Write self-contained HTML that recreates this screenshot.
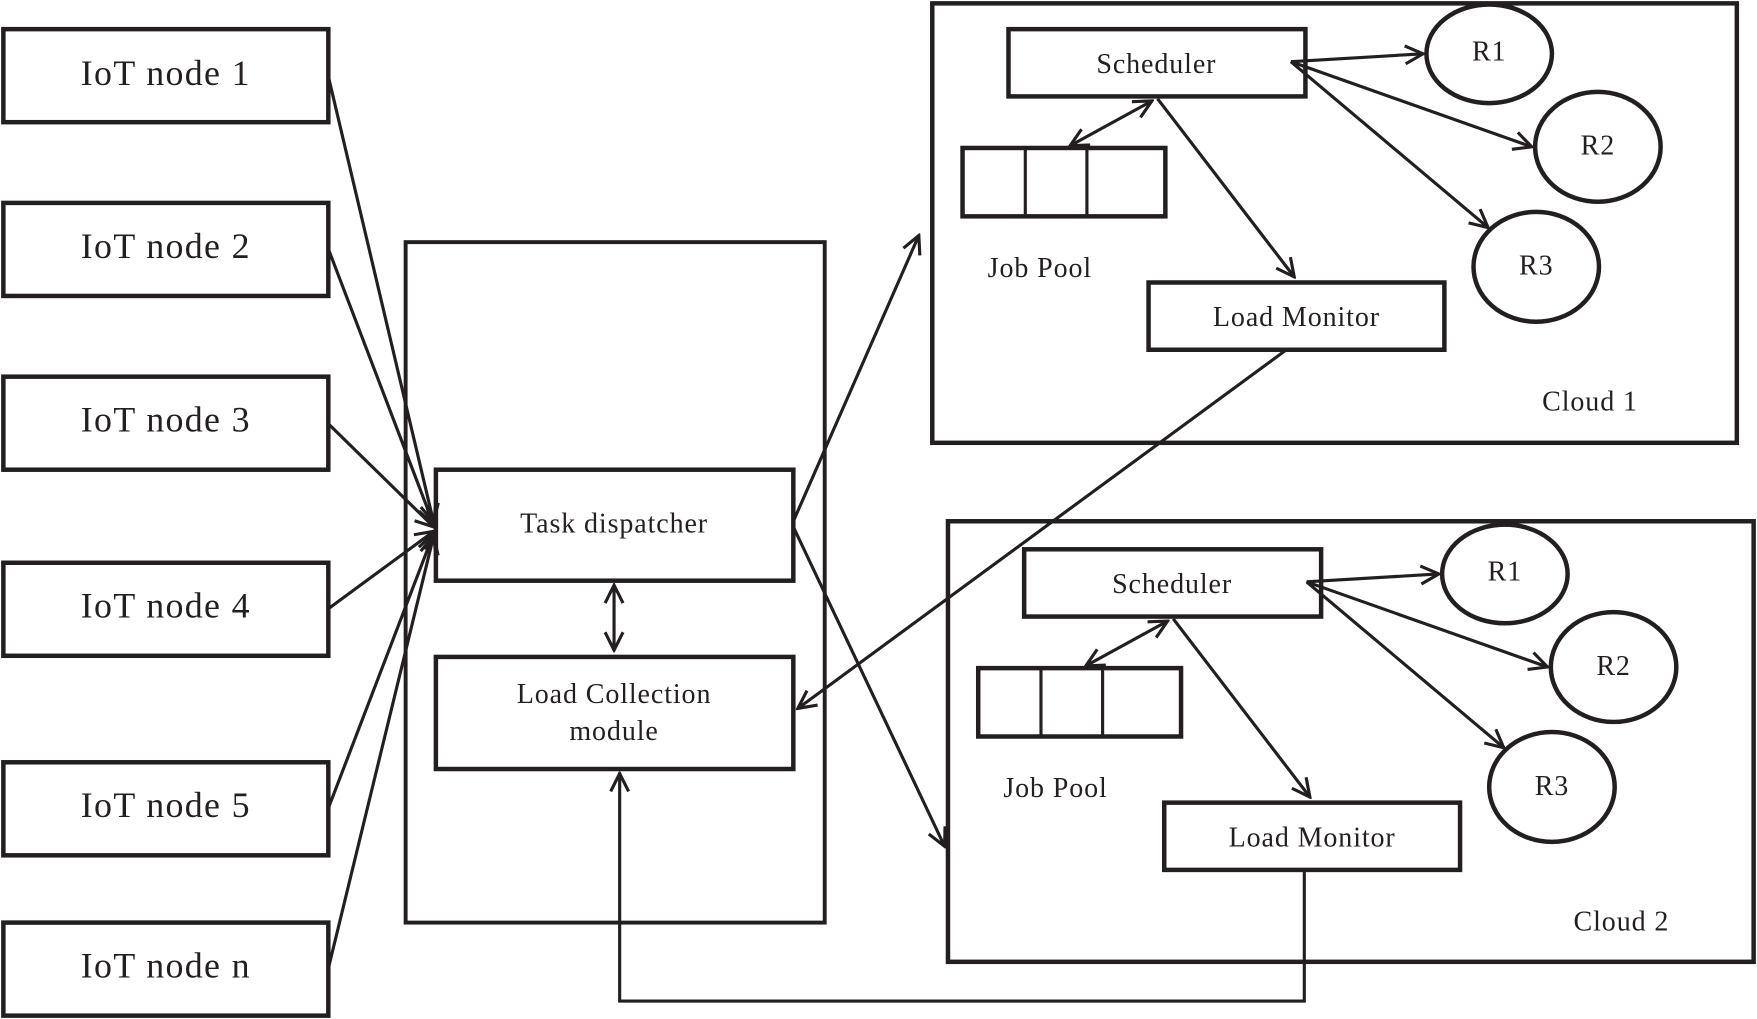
<!DOCTYPE html>
<html><head><meta charset="utf-8"><style>
html,body{margin:0;padding:0;background:#fff;}
svg{display:block;}
text{font-family:"Liberation Serif",serif;fill:#231f20;}
</style></head><body>
<svg width="1757" height="1019" viewBox="0 0 1568 909" preserveAspectRatio="none" xmlns="http://www.w3.org/2000/svg">
<defs>
<marker id="a" viewBox="0 0 20 20" refX="18" refY="10" markerWidth="20" markerHeight="20" markerUnits="userSpaceOnUse" orient="auto-start-reverse">
<polyline points="2,2 18,10 2,18" fill="none" stroke="#231f20" stroke-width="2.8"/>
</marker>
</defs>
<g fill="none" stroke="#231f20" stroke-width="4">
<rect x="3" y="26" width="290" height="83"/>
<rect x="3" y="181" width="290" height="83"/>
<rect x="3" y="336" width="290" height="83"/>
<rect x="3" y="502" width="290" height="83"/>
<rect x="3" y="680" width="290" height="83"/>
<rect x="3" y="823" width="290" height="83"/>
<rect x="362" y="216" width="374" height="607" stroke-width="3.5"/>
<rect x="389" y="419" width="319" height="99"/>
<rect x="389" y="586" width="319" height="100"/>
<rect x="832" y="3" width="718" height="392"/>
<rect x="846" y="465" width="719" height="393"/>
<rect x="900" y="26" width="265" height="60"/>
<rect x="859" y="132" width="181" height="61"/>
<rect x="1025" y="252" width="264" height="60"/>
<ellipse cx="1329" cy="48" rx="56" ry="44"/>
<ellipse cx="1426" cy="131" rx="56" ry="49"/>
<ellipse cx="1371" cy="238" rx="56" ry="49"/>
<rect x="914" y="490" width="265" height="60"/>
<rect x="873" y="596" width="181" height="61"/>
<rect x="1039" y="716" width="264" height="60"/>
<ellipse cx="1343" cy="512" rx="56" ry="44"/>
<ellipse cx="1440" cy="595" rx="56" ry="49"/>
<ellipse cx="1385" cy="702" rx="56" ry="49"/>
</g>
<g stroke="#231f20" stroke-width="2.8" fill="none">
<line x1="915" y1="132" x2="915" y2="193"/><line x1="970" y1="132" x2="970" y2="193"/>
<line x1="929" y1="596" x2="929" y2="657"/><line x1="984" y1="596" x2="984" y2="657"/>
</g>
<g stroke="#231f20" stroke-width="2.8" fill="none" marker-end="url(#a)">
<line x1="293" y1="68" x2="387" y2="466"/>
<line x1="293" y1="222" x2="387" y2="468"/>
<line x1="293" y1="378" x2="387" y2="470"/>
<line x1="293" y1="543" x2="387" y2="474"/>
<line x1="293" y1="721" x2="387" y2="476"/>
<line x1="293" y1="864" x2="387" y2="478"/>
<line x1="548" y1="522" x2="548" y2="580" marker-start="url(#a)"/>
<line x1="708" y1="465" x2="820" y2="210"/>
<line x1="708" y1="470" x2="843" y2="755"/>
<line x1="1148" y1="312" x2="712" y2="632"/>
<polyline points="1164,776 1164,893 553,893 553,690"/>
<line x1="1152" y1="55" x2="1270" y2="48"/>
<line x1="1152" y1="55" x2="1367" y2="131"/>
<line x1="1152" y1="55" x2="1328" y2="203"/>
<line x1="955" y1="130" x2="1028" y2="90" marker-start="url(#a)"/>
<line x1="1033" y1="88" x2="1155" y2="247"/>
<line x1="1166" y1="519" x2="1284" y2="512"/>
<line x1="1166" y1="519" x2="1381" y2="595"/>
<line x1="1166" y1="519" x2="1342" y2="667"/>
<line x1="969" y1="594" x2="1042" y2="554" marker-start="url(#a)"/>
<line x1="1047" y1="552" x2="1169" y2="711"/>
</g>
<g font-size="32" text-anchor="middle" letter-spacing="1.2">
<text x="148" y="76">IoT node 1</text>
<text x="148" y="230">IoT node  2</text>
<text x="148" y="385">IoT node 3</text>
<text x="148" y="551">IoT node 4</text>
<text x="148" y="729">IoT node 5</text>
<text x="148" y="872">IoT node n</text>
</g>
<g font-size="25" text-anchor="middle" letter-spacing="0.8">
<text x="548" y="475">Task dispatcher</text>
<text x="548" y="627">Load Collection</text>
<text x="548" y="660">module</text>
<text x="1032" y="65">Scheduler</text>
<text x="928" y="247">Job Pool</text>
<text x="1157" y="291">Load Monitor</text>
<text x="1419" y="366">Cloud 1</text>
<text x="1329" y="54">R1</text>
<text x="1426" y="138">R2</text>
<text x="1371" y="245">R3</text>
<text x="1046" y="529">Scheduler</text>
<text x="942" y="711">Job Pool</text>
<text x="1171" y="755">Load Monitor</text>
<text x="1447" y="830">Cloud 2</text>
<text x="1343" y="518">R1</text>
<text x="1440" y="602">R2</text>
<text x="1385" y="709">R3</text>
</g>
</svg>
</body></html>
